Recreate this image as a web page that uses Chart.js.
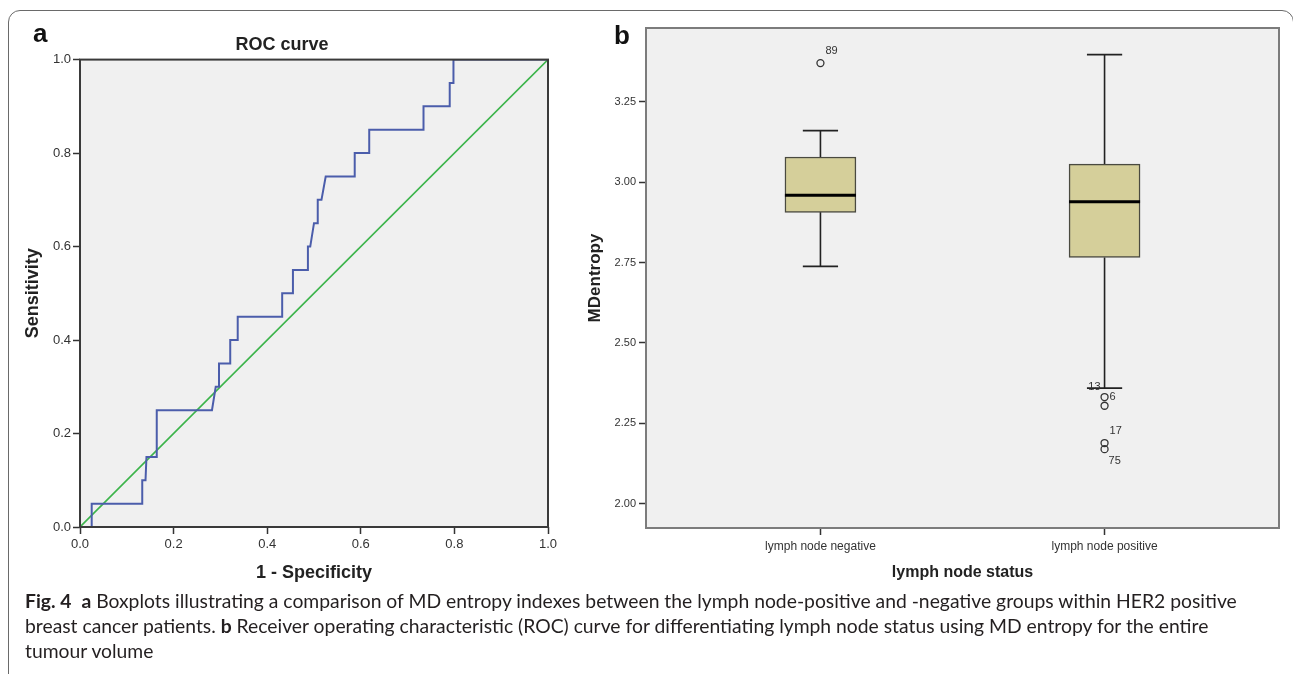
<!DOCTYPE html>
<html>
<head>
<meta charset="utf-8">
<script src="https://cdn.jsdelivr.net/npm/chart.js@4.4.1/dist/chart.umd.min.js"></script>
<style>
  html, body { margin: 0; padding: 0; background: #fff; }
  body { width: 1293px; height: 674px; position: relative; overflow: hidden; }
  #frame {
    position: absolute; left: 8px; top: 10px; width: 1286px; height: 720px;
    border: 1.5px solid #6a6a6a; border-radius: 12px; box-sizing: border-box;
  }
  .panel-tag {
    position: absolute; font: bold 26px "Liberation Sans", Arial, sans-serif; color: #111; line-height: 26px;
  }
  #rocWrap { position: absolute; left: 0; top: 0; width: 575px; height: 590px; }
  #boxWrap { position: absolute; left: 575px; top: 0; width: 718px; height: 590px; }
  #caption {
    position: absolute; left: 25px; top: 588px;
    font-family: Lato, "Open Sans", sans-serif; color: #231f20;
  }
  #caption .ln { white-space: nowrap; height: 25px; line-height: 25px; }
</style>
</head>
<body>
<div id="frame"></div>
<div id="rocWrap"><canvas id="roc"></canvas></div>
<div id="boxWrap"><canvas id="box"></canvas></div>
<div class="panel-tag" style="left:33px; top:20px;">a</div>
<div class="panel-tag" style="left:614px; top:22px;">b</div>
<div id="caption">
  <div class="ln"><b>Fig. 4</b>&nbsp; <b>a</b> Boxplots illustrating a comparison of MD entropy indexes between the lymph node-positive and -negative groups within HER2 positive</div>
  <div class="ln">breast cancer patients. <b>b</b> Receiver operating characteristic (ROC) curve for differentiating lymph node status using MD entropy for the entire</div>
  <div class="ln">tumour volume</div>
</div>

<script>
// ---- data: ROC curve (panel a) ----
const rocFpr = [0, 0.025, 0.025, 0.133, 0.133, 0.140, 0.142, 0.164, 0.164, 0.282,
                0.290, 0.297, 0.297, 0.321, 0.321, 0.337, 0.337, 0.432, 0.432, 0.455,
                0.455, 0.487, 0.487, 0.492, 0.500, 0.508, 0.508, 0.516, 0.525, 0.587,
                0.587, 0.618, 0.618, 0.734, 0.734, 0.790, 0.790, 0.798, 0.798, 1.0];
const rocTpr = [0, 0, 0.05, 0.05, 0.10, 0.10, 0.15, 0.15, 0.25, 0.25,
                0.30, 0.30, 0.35, 0.35, 0.40, 0.40, 0.45, 0.45, 0.50, 0.50,
                0.55, 0.55, 0.60, 0.60, 0.65, 0.65, 0.70, 0.70, 0.75, 0.75,
                0.80, 0.80, 0.85, 0.85, 0.90, 0.90, 0.95, 0.95, 1.0, 1.0];
const refX = [0, 1];
const refY = [0, 1];
const rocTicks = [0, 0.2, 0.4, 0.6, 0.8, 1.0];

// ---- data: boxplot (panel b) ----
const groups = ["lymph node negative", "lymph node positive"];
const boxMin    = [2.738, 2.360];
const boxQ1     = [2.906, 2.766];
const boxMedian = [2.959, 2.939];
const boxQ3     = [3.078, 3.056];
const boxMax    = [3.160, 3.396];
const outlierGroup = [0, 1, 1, 1, 1];
const outlierValue = [3.370, 2.332, 2.305, 2.189, 2.170];
const outlierId    = ["89", "6", "13", "17", "75"];
const boxTicks = [2.00, 2.25, 2.50, 2.75, 3.00, 3.25];

// ---- styles ----
const FONT = '"Liberation Sans", Arial, sans-serif';
Chart.defaults.font.family = FONT;
Chart.defaults.color = "#333";
const PLOT_BG = "#f0f0f0";
const BOX_HALF = 0.125;   // half box width, x units
const CAP_HALF = 0.062;   // half whisker cap width, x units
// label offsets (px) relative to each outlier circle: [dx, dy, align]
const outlierLabelPlace = {
  "89": [5, -12, "left"],
  "6":  [5, 0, "left"],
  "13": [-4, -19, "right"],
  "17": [5, -12, "left"],
  "75": [4, 12, "left"],
};

const plotFrame = {
  id: "plotFrame",
  beforeDraw(chart, args, opts) {
    const { ctx, chartArea: a } = chart;
    ctx.save();
    ctx.fillStyle = opts.fill;
    ctx.fillRect(a.left, a.top, a.right - a.left, a.bottom - a.top);
    ctx.restore();
  },
  afterDraw(chart, args, opts) {
    const { ctx, chartArea: a } = chart;
    ctx.save();
    ctx.strokeStyle = opts.stroke;
    ctx.lineWidth = opts.width;
    ctx.strokeRect(a.left, a.top, a.right - a.left, a.bottom - a.top);
    ctx.restore();
  },
};

const outlierLabels = {
  id: "outlierLabels",
  afterDatasetsDraw(chart) {
    const idx = chart.data.datasets.findIndex(d => d.label === "outliers");
    if (idx < 0) return;
    const meta = chart.getDatasetMeta(idx);
    const { ctx } = chart;
    ctx.save();
    ctx.font = "11px " + FONT;
    ctx.fillStyle = "#333";
    ctx.textBaseline = "middle";
    meta.data.forEach((pt, i) => {
      const [dx, dy, align] = outlierLabelPlace[outlierId[i]] || [5, 0, "left"];
      ctx.textAlign = align;
      ctx.fillText(outlierId[i], pt.x + dx, pt.y + dy);
    });
    ctx.restore();
  },
};

// ---------------- ROC chart ----------------
new Chart(document.getElementById("roc"), {
  type: "scatter",
  data: {
    datasets: [
      {
        label: "ROC",
        data: rocFpr.map((x, i) => ({ x, y: rocTpr[i] })),
        showLine: true, borderColor: "#4b5dab", borderWidth: 2,
        pointRadius: 0, tension: 0,
      },
      {
        label: "Reference",
        data: refX.map((x, i) => ({ x, y: refY[i] })),
        showLine: true, borderColor: "#3cb44b", borderWidth: 1.6,
        pointRadius: 0,
      },
    ],
  },
  options: {
    responsive: true, maintainAspectRatio: false, animation: false,
    layout: { padding: { left: 16, right: 27, top: 0, bottom: 0 } },
    plugins: {
      legend: { display: false },
      tooltip: { enabled: false },
      title: {
        display: true, text: "ROC curve", color: "#222",
        font: { size: 18, weight: "bold" }, padding: { top: 34, bottom: 4 },
      },
      plotFrame: { fill: PLOT_BG, stroke: "#3a3a3a", width: 2 },
    },
    scales: {
      x: {
        type: "linear", min: 0, max: 1,
        afterBuildTicks: s => { s.ticks = rocTicks.map(v => ({ value: v })); },
        afterFit: s => { s.height = 63; },
        ticks: { font: { size: 13 }, color: "#333", padding: 3, callback: v => v.toFixed(1), maxRotation: 0 },
        grid: { drawOnChartArea: false, drawTicks: true, tickLength: 7, tickColor: "#333", tickWidth: 1.5 },
        border: { display: false },
        title: { display: true, text: "1 - Specificity", color: "#222", font: { size: 18, weight: "bold" }, padding: { top: 0, bottom: 6 } },
      },
      y: {
        type: "linear", min: 0, max: 1,
        afterBuildTicks: s => { s.ticks = rocTicks.map(v => ({ value: v })); },
        afterFit: s => { s.width = 64; },
        ticks: { font: { size: 13 }, color: "#333", padding: 2, callback: v => v.toFixed(1) },
        grid: { drawOnChartArea: false, drawTicks: true, tickLength: 7, tickColor: "#333", tickWidth: 1.5 },
        border: { display: false },
        title: { display: true, text: "Sensitivity", color: "#222", font: { size: 18, weight: "bold" }, padding: { top: 6, bottom: 0 } },
      },
    },
  },
  plugins: [plotFrame],
});

// ---------------- Boxplot chart ----------------
const gap = (i) => ({ x: i, y: null });
const whiskerPts = [];
const capPts = [];
const medianPts = [];
groups.forEach((g, i) => {
  whiskerPts.push({ x: i, y: boxQ3[i] }, { x: i, y: boxMax[i] }, gap(i),
                  { x: i, y: boxQ1[i] }, { x: i, y: boxMin[i] }, gap(i));
  capPts.push({ x: i - CAP_HALF, y: boxMax[i] }, { x: i + CAP_HALF, y: boxMax[i] }, gap(i),
              { x: i - CAP_HALF, y: boxMin[i] }, { x: i + CAP_HALF, y: boxMin[i] }, gap(i));
  medianPts.push({ x: i - BOX_HALF, y: boxMedian[i] }, { x: i + BOX_HALF, y: boxMedian[i] }, gap(i));
});

new Chart(document.getElementById("box"), {
  type: "bar",
  data: {
    datasets: [
      {
        type: "line", label: "median", data: medianPts, order: 0,
        borderColor: "#000", borderWidth: 3, pointRadius: 0, spanGaps: false,
      },
      {
        type: "scatter", label: "outliers", order: 1,
        data: outlierValue.map((v, i) => ({ x: outlierGroup[i], y: v })),
        pointStyle: "circle", pointRadius: 3.5, pointBorderWidth: 1.3,
        pointBorderColor: "#333", pointBackgroundColor: "rgba(0,0,0,0)",
      },
      {
        type: "line", label: "caps", data: capPts, order: 2,
        borderColor: "#222", borderWidth: 1.8, pointRadius: 0, spanGaps: false,
      },
      {
        type: "line", label: "whiskers", data: whiskerPts, order: 3,
        borderColor: "#222", borderWidth: 1.6, pointRadius: 0, spanGaps: false,
      },
      {
        type: "bar", label: "box", order: 4,
        data: groups.map((g, i) => ({ x: i, y: [boxQ1[i], boxQ3[i]] })),
        backgroundColor: "#d5cf9a", borderColor: "#4a4a40", borderWidth: 1.5,
        borderSkipped: false, barThickness: 71,
      },
    ],
  },
  options: {
    responsive: true, maintainAspectRatio: false, animation: false,
    layout: { padding: { left: 0, right: 14, top: 28, bottom: 0 } },
    plugins: {
      legend: { display: false },
      tooltip: { enabled: false },
      plotFrame: { fill: PLOT_BG, stroke: "#7c7c7c", width: 2 },
    },
    scales: {
      x: {
        type: "linear", min: -0.614, max: 1.614, offset: false,
        afterBuildTicks: s => { s.ticks = groups.map((g, i) => ({ value: i })); },
        afterFit: s => { s.height = 62; },
        ticks: { font: { size: 12 }, color: "#333", padding: 4, callback: v => groups[v] ?? "", maxRotation: 0, autoSkip: false },
        grid: { offset: false, drawOnChartArea: false, drawTicks: true, tickLength: 7, tickColor: "#333", tickWidth: 1.5 },
        border: { display: false },
        title: { display: true, text: "lymph node status", color: "#222", font: { size: 16, weight: "bold" }, padding: { top: 0, bottom: 8 } },
      },
      y: {
        type: "linear", min: 1.925, max: 3.479,
        afterBuildTicks: s => { s.ticks = boxTicks.map(v => ({ value: v })); },
        afterFit: s => { s.width = 71; },
        ticks: { font: { size: 11 }, color: "#333", padding: 3, callback: v => Number(v).toFixed(2) },
        grid: { drawOnChartArea: false, drawTicks: true, tickLength: 7, tickColor: "#333", tickWidth: 1.5 },
        border: { display: false },
        title: { display: true, text: "MDentropy", color: "#222", font: { size: 17, weight: "bold" }, padding: { top: 10, bottom: 0 } },
      },
    },
  },
  plugins: [plotFrame, outlierLabels],
});

// caption: fit first line to the measured width of the original
(function fitCaption() {
  const cap = document.getElementById("caption");
  cap.style.fontSize = "16px";
  const first = cap.querySelector(".ln");
  const w = first.getBoundingClientRect().width;
  const target = 1212;
  cap.style.fontSize = (16 * target / w).toFixed(2) + "px";
})();
</script>
</body>
</html>
